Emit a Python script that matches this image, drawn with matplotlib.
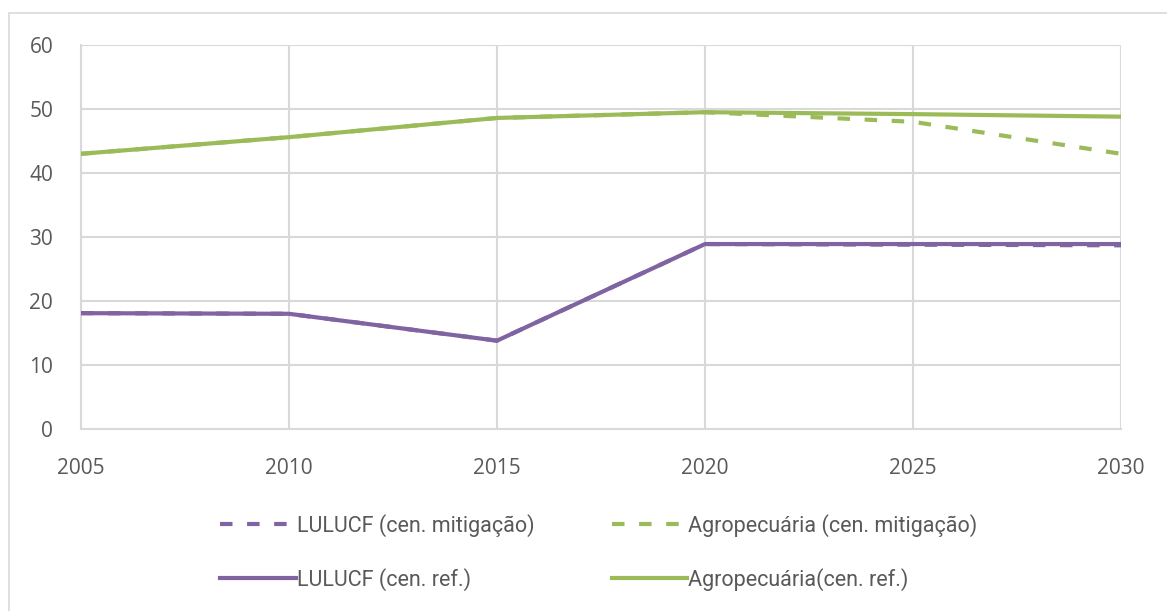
import matplotlib
matplotlib.use("Agg")
import matplotlib.pyplot as plt
from matplotlib.patches import Rectangle

# Data
years = [2005, 2010, 2015, 2020, 2025, 2030]
lulucf_mit = [18.1, 18.0, 13.8, 28.9, 28.8, 28.7]
agro_mit = [43.0, 45.6, 48.6, 49.5, 48.0, 43.0]
lulucf_ref = [18.1, 18.0, 13.8, 28.9, 28.9, 28.9]
agro_ref = [43.0, 45.6, 48.6, 49.5, 49.2, 48.8]

purple = "#8064A2"
green = "#9BBB59"
grid_c = "#D9D9D9"
text_c = "#595959"

plt.rcParams["font.family"] = ["Open Sans", "DejaVu Sans"]

fig = plt.figure(figsize=(11.67, 6.11), dpi=100)
fig.patches.append(Rectangle((9 / 1167, -0.05), 1.2, 1 - 13 / 611 + 0.05,
                             transform=fig.transFigure, fill=False,
                             edgecolor=grid_c, linewidth=1.2))

ax = fig.add_axes([81 / 1167, 1 - 429 / 611, 1040 / 1167, 384 / 611])

l1, = ax.plot(years, lulucf_mit, color=purple, lw=3, ls=(0, (3, 3.5)),
              label="LULUCF (cen. mitigação)", zorder=3)
l2, = ax.plot(years, agro_mit, color=green, lw=3, ls=(0, (3, 3.5)),
              label="Agropecuária (cen. mitigação)", zorder=3)
l3, = ax.plot(years, lulucf_ref, color=purple, lw=3,
              label="LULUCF (cen. ref.)", zorder=3)
l4, = ax.plot(years, agro_ref, color=green, lw=3,
              label="Agropecuária(cen. ref.)", zorder=3)

ax.set_xlim(2005, 2030)
ax.set_ylim(0, 60)
ax.set_xticks(years)
ax.set_yticks(range(0, 61, 10))
ax.grid(True, color=grid_c, lw=1.5)
ax.set_axisbelow(True)
for s in ["top", "right"]:
    ax.spines[s].set_visible(False)
for s in ["left", "bottom"]:
    ax.spines[s].set_color(grid_c)
    ax.spines[s].set_linewidth(1.5)
ax.tick_params(length=0, labelsize=15, colors=text_c)
ax.tick_params(axis="x", pad=21)
ax.tick_params(axis="y", pad=20)

# column-major fill, so order gives rows: mitigação on top, ref below
handles = [l1, l3, l2, l4]
leg = ax.legend(handles, [h.get_label() for h in handles],
                loc="upper center", bbox_to_anchor=(0.498, -0.17), ncol=2,
                frameon=False, handlelength=3.5, handletextpad=0.05,
                columnspacing=3.6, labelspacing=1.45,
                prop={"family": ["Roboto", "DejaVu Sans"], "size": 15.5})
for t in leg.get_texts():
    t.set_color(text_c)

fig.savefig("out.png", dpi=100)
